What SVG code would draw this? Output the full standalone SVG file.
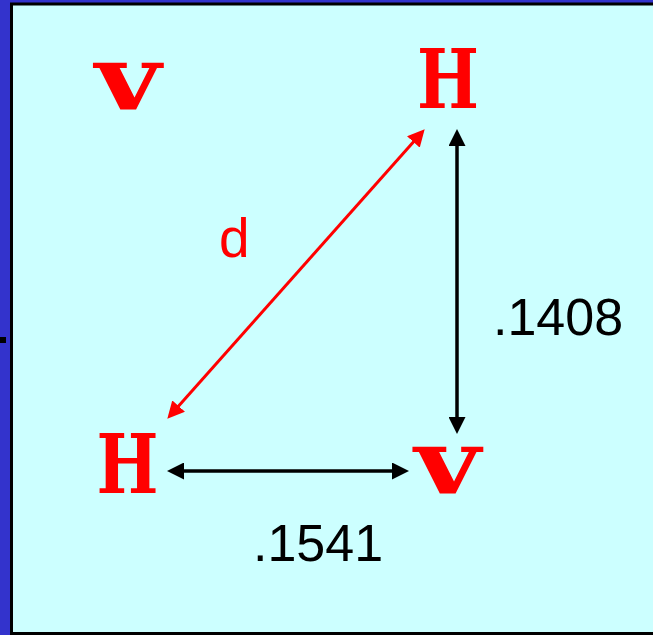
<svg xmlns="http://www.w3.org/2000/svg" width="653" height="635" viewBox="0 0 653 635">
<style>
.mono{font-family:"DejaVu Serif","Courier New",serif;font-weight:bold;fill:#ff0000;text-anchor:middle}
.H{font-size:82px}
.v{font-size:90px}
.lbl{font-family:"Liberation Sans",Arial,sans-serif;font-size:52px;fill:#000000}
.blk{stroke:#000000;stroke-width:3.5;fill:none}
.red{stroke:#ff0000;stroke-width:3;fill:none}
</style>
<defs>
<marker id="ab" markerUnits="userSpaceOnUse" markerWidth="17" markerHeight="17" refX="8" refY="8.5" orient="auto-start-reverse" viewBox="0 0 17 17">
<path d="M0,0 L17,8.5 L0,17 z" fill="#000000"/>
</marker>
<marker id="ar" markerUnits="userSpaceOnUse" markerWidth="17" markerHeight="17" refX="8" refY="8.5" orient="auto-start-reverse" viewBox="0 0 17 17">
<path d="M0,0 L17,8.5 L0,17 z" fill="#ff0000"/>
</marker>
</defs>
<rect x="0" y="0" width="653" height="635" fill="#3333cc"/>
<rect x="11.5" y="4" width="660" height="629.5" fill="#ccffff" stroke="#000000" stroke-width="3"/>
<rect x="0" y="337" width="6" height="6" fill="#000000"/>
<g id="nodes">
<g id="v-top"><text class="mono v" x="128" y="109" textLength="66" lengthAdjust="spacingAndGlyphs">v</text></g>
<g id="h-top"><text class="mono H" x="448" y="108" textLength="62" lengthAdjust="spacingAndGlyphs">H</text></g>
<g id="h-bottom"><text class="mono H" x="127.5" y="493" textLength="62" lengthAdjust="spacingAndGlyphs">H</text></g>
<g id="v-bottom"><text class="mono v" x="447.5" y="493" textLength="66" lengthAdjust="spacingAndGlyphs">v</text></g>
</g>
<g id="connectors">
<line class="red" x1="418.7" y1="136" x2="173.3" y2="412" marker-start="url(#ar)" marker-end="url(#ar)"/>
<line class="blk" x1="457" y1="138" x2="457" y2="425" marker-start="url(#ab)" marker-end="url(#ab)"/>
<line class="blk" x1="176" y1="471" x2="400" y2="471" marker-start="url(#ab)" marker-end="url(#ab)"/>
</g>
<g id="labels">
<text x="219" y="257" font-family="'Liberation Sans',Arial,sans-serif" font-size="55" fill="#ff0000">d</text>
<text class="lbl" x="493" y="335">.1408</text>
<text class="lbl" x="253" y="561" font-size="51">.1541</text>
</g>
</svg>
